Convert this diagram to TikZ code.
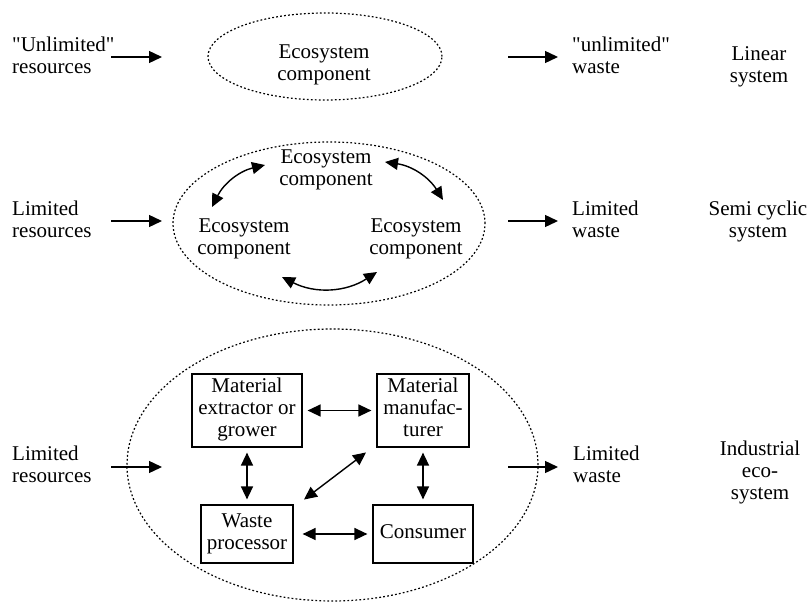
\documentclass[tikz,border=0pt]{standalone}
\usepackage{fontspec}
\setmainfont{Liberation Serif}
\usetikzlibrary{arrows.meta,shapes.geometric}
\begin{document}
\begin{tikzpicture}[x=1pt,y=-1pt,
  txt/.style={inner sep=0pt, font=\fontsize{21}{22}\selectfont, text=black},
  ltxt/.style={txt, align=left, anchor=west},
  ctxt/.style={txt, align=center},
  eco/.style={draw=black, ellipse, line width=1.2pt, dash pattern=on 1.8pt off 2.2pt, inner sep=0pt},
  procbox/.style={draw=black, line width=1.2pt, txt, align=center},
  tip/.tip={Triangle[length=13pt,width=12pt]},
  arr/.style={-tip, line width=1.4pt},
  biarr/.style={tip-tip, line width=1.4pt},
]
\useasboundingbox (0,0) rectangle (809,602);

% ---------- Row 1: linear system ----------
\node[eco, minimum width=234pt, minimum height=87pt] (e1) at (325,56.5) {};
\node[ltxt] (r1) at (12,58.6) {\strut\textquotedbl Unlimited\textquotedbl\\resources\strut};
\node[ctxt] (c1) at (324,65.6) {\strut Ecosystem\\component\strut};
\node[ltxt] (w1) at (572,58.6) {\strut\textquotedbl unlimited\textquotedbl\\waste\strut};
\node[ctxt] (s1) at (759,67.6) {\strut Linear\\system\strut};
\coordinate (a1s) at (111,57);  \coordinate (a1e) at (162,57);
\coordinate (b1s) at (508,57);  \coordinate (b1e) at (558,57);
\draw[arr] (a1s) -- (a1e);
\draw[arr] (b1s) -- (b1e);

% ---------- Row 2: semi cyclic system ----------
\node[eco, minimum width=312pt, minimum height=163pt] (e2) at (329,223.5) {};
\node[ltxt] (r2) at (12,221.6) {\strut Limited\\resources\strut};
\node[ctxt] (ct) at (326,169.6) {\strut Ecosystem\\component\strut};
\node[ctxt] (cl) at (244,238.6) {\strut Ecosystem\\component\strut};
\node[ctxt] (cr) at (416,238.6) {\strut Ecosystem\\component\strut};
\node[ltxt] (w2) at (572,221.6) {\strut Limited\\waste\strut};
\node[ctxt] (s2) at (758,221.6) {\strut Semi cyclic\\system\strut};
\coordinate (a2s) at (111,221);  \coordinate (a2e) at (162,221);
\coordinate (b2s) at (508,221);  \coordinate (b2e) at (558,221);
\draw[arr] (a2s) -- (a2e);
\draw[arr] (b2s) -- (b2e);
\coordinate (tl1) at (212,207); \coordinate (tl2) at (265,165);
\coordinate (tr1) at (385,162); \coordinate (tr2) at (443,200);
\coordinate (bt1) at (282,277); \coordinate (bt2) at (377,272);
\draw[biarr] (tl1) to[bend left=25] (tl2);
\draw[biarr] (tr1) to[bend left=25] (tr2);
\draw[biarr] (bt1) to[bend right=30] (bt2);

% ---------- Row 3: industrial ecosystem ----------
\node[eco, minimum width=411pt, minimum height=272pt] (e3) at (332.5,465) {};
\node[ltxt] (r3) at (12,466.6) {\strut Limited\\resources\strut};
\node[ltxt] (w3) at (573,466.6) {\strut Limited\\waste\strut};
\node[ctxt] (s3) at (760,472.6) {\strut Industrial\\eco-\\system\strut};
\coordinate (a3s) at (111,467);  \coordinate (a3e) at (162,467);
\coordinate (b3s) at (508,467);  \coordinate (b3e) at (558,467);
\draw[arr] (a3s) -- (a3e);
\draw[arr] (b3s) -- (b3e);

\node[procbox, minimum width=110pt, minimum height=73pt] (me) at (247,410.5) {\strut Material\\extractor or\\grower\strut};
\node[procbox, minimum width=92pt, minimum height=73pt] (mm) at (423,410.5) {\strut Material\\manufac-\\turer\strut};
\node[procbox, minimum width=92pt, minimum height=58pt] (wp) at (247,534) {\strut Waste\\processor\strut};
\node[procbox, minimum width=100pt, minimum height=58pt] (co) at (423,534) {\strut Consumer\strut};

\draw[biarr, shorten <=5pt, shorten >=5pt] (me.east) -- (mm.west);
\draw[biarr, shorten <=5pt, shorten >=5pt] (me.south) -- (wp.north);
\draw[biarr, shorten <=5pt, shorten >=5pt] (mm.south) -- (co.north);
\draw[biarr, shorten <=9pt, shorten >=5pt] (wp.east) -- (co.west);
\draw[biarr, shorten <=8pt, shorten >=8pt] ([xshift=4pt]wp.north east) -- ([xshift=-4pt]mm.south west);
\end{tikzpicture}
\end{document}
